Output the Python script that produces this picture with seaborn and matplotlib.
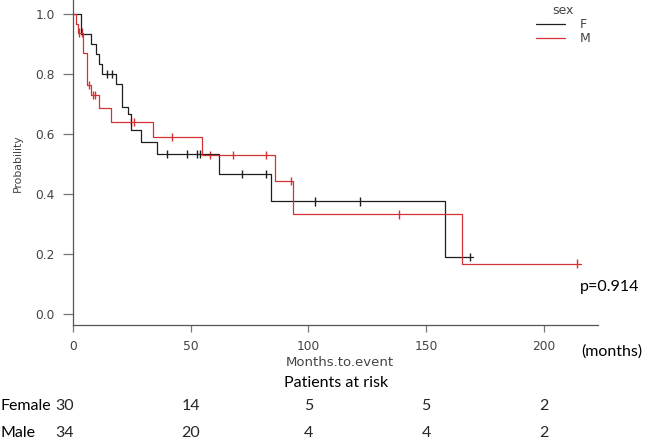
import numpy as np
import pandas as pd
import matplotlib
matplotlib.use("Agg")
import matplotlib.pyplot as plt
import matplotlib.transforms as mtransforms
import seaborn as sns

# ---- data ----
f_times = [0, 3.4, 7.5, 9.8, 11.2, 12.3, 18.3, 21.0, 23.2, 24.5, 28.9, 35.8, 62.1, 83.9, 158.2, 169.9]
f_surv = [1.0, 0.933, 0.90, 0.867, 0.833, 0.80, 0.767, 0.69, 0.667, 0.613, 0.574, 0.533, 0.467, 0.375, 0.19, 0.19]
m_times = [0, 1.3, 2.3, 4.1, 5.8, 7.5, 11.2, 16.1, 34.1, 54.9, 85.7, 93.6, 165.4, 215.9]
m_surv = [1.0, 0.967, 0.938, 0.871, 0.763, 0.73, 0.686, 0.641, 0.589, 0.53, 0.444, 0.332, 0.168, 0.168]

f_cens_t = [14.6, 16.7, 40.0, 48.3, 52.8, 53.9, 71.9, 81.9, 102.7, 121.7, 168.5]
f_cens_s = [0.80, 0.80, 0.533, 0.533, 0.533, 0.533, 0.467, 0.467, 0.375, 0.375, 0.19]
m_cens_t = [2.6, 3.7, 6.9, 8.5, 9.3, 24.6, 25.9, 42.2, 58.1, 67.8, 81.9, 92.8, 138.5, 214.2]
m_cens_s = [0.938, 0.938, 0.763, 0.73, 0.73, 0.641, 0.641, 0.589, 0.53, 0.53, 0.53, 0.444, 0.332, 0.168]

risk_times = [0, 50, 100, 150, 200]
risk_female = [30, 14, 5, 5, 2]
risk_male = [34, 20, 4, 4, 2]
x_ticks = [0, 50, 100, 150, 200]
y_ticks = [0.0, 0.2, 0.4, 0.6, 0.8, 1.0]
p_value_text = "p=0.914"

# ---- build tables ----
curves = pd.concat([
    pd.DataFrame({"time": f_times, "surv": f_surv, "sex": "F"}),
    pd.DataFrame({"time": m_times, "surv": m_surv, "sex": "M"}),
], ignore_index=True)
cens = pd.concat([
    pd.DataFrame({"time": f_cens_t, "surv": f_cens_s, "sex": "F"}),
    pd.DataFrame({"time": m_cens_t, "surv": m_cens_s, "sex": "M"}),
], ignore_index=True)

palette = {"F": "#1e1e1e", "M": "#d43232"}

W, H = 658, 443
fig = plt.figure(figsize=(W / 100, H / 100), dpi=100)
sns.set_style("white")
plt.rcParams["font.family"] = ["DejaVu Sans"]

def px(x, y):
    return x / W, 1 - y / H

ax_left, ax_right, ax_top, ax_bottom = 73, 598, 0, 325
ax = fig.add_axes([ax_left / W, 1 - ax_bottom / H, (ax_right - ax_left) / W, (ax_bottom - ax_top) / H])

sns.lineplot(data=curves, x="time", y="surv", hue="sex", palette=palette,
             drawstyle="steps-post", estimator=None, linewidth=0.9, ax=ax, legend=True)
sns.scatterplot(data=cens, x="time", y="surv", hue="sex", palette=palette,
                marker="|", s=36, linewidth=1.0, ax=ax, legend=False)

ax.set_xlim(0, 223)
ax.set_ylim(-0.0367, 1.0467)
ax.set_xticks(x_ticks)
ax.set_yticks(y_ticks)
ax.set_xticklabels([str(v) for v in x_ticks])
ax.set_yticklabels([f"{v:.1f}" for v in y_ticks])
for s in ["top", "right"]:
    ax.spines[s].set_visible(False)
for s in ["left", "bottom"]:
    ax.spines[s].set_color("#555555")
    ax.spines[s].set_linewidth(0.9)
ax.tick_params(axis="y", direction="out", length=7, width=0.9, color="#777777",
               labelsize=8.8, labelcolor="#444444", pad=6, left=True)
ax.tick_params(axis="x", direction="out", length=5, width=0.9, color="#777777",
               labelsize=8.8, labelcolor="#444444", pad=6, bottom=True)
ax.set_xlabel("")
ax.set_ylabel("")
ax.grid(False)
ax.set_facecolor("white")

# axis titles
fig.text(*px(340, 363), "Months.to.event", ha="center", va="center", fontsize=9.5, color="#444444")
fig.text(*px(18, 163), "Probability", ha="center", va="center", rotation=90, fontsize=7.8, color="#444444")

# legend
handles, labels = ax.get_legend_handles_labels()
leg = ax.legend(handles, labels, title="sex", loc="upper left",
                bbox_to_anchor=px(536, 4), bbox_transform=fig.transFigure,
                frameon=False, fontsize=9, title_fontsize=9,
                handlelength=2.3, handletextpad=1.2, labelspacing=0.1,
                borderpad=0, borderaxespad=0)
for t in leg.get_texts():
    t.set_color("#444444")
leg.get_title().set_color("#444444")
for l in leg.get_lines():
    l.set_linewidth(0.9)

# annotations (Calibri-like)
cal = "Lato"
fs = 11.5
fig.text(*px(580, 287), p_value_text, ha="left", va="center", fontsize=fs, family=cal, color="black")
fig.text(*px(581, 352), "(months)", ha="left", va="center", fontsize=fs, family=cal, color="black")
fig.text(*px(336, 383), "Patients at risk", ha="center", va="center", fontsize=fs, family=cal, color="black")
fig.text(*px(0, 406), "Female", ha="left", va="center", fontsize=fs, family=cal, color="black")
fig.text(*px(0, 433), "Male", ha="left", va="center", fontsize=fs, family=cal, color="black")

blend = mtransforms.blended_transform_factory(ax.transData, fig.transFigure)
for i, (t, nf, nm) in enumerate(zip(risk_times, risk_female, risk_male)):
    tr = blend
    if i == 0:
        tr = blend + mtransforms.ScaledTranslation(-8 / 100, 0, fig.dpi_scale_trans)
    fig.text(t, 1 - 406 / H, str(nf), transform=tr, ha="center", va="center", fontsize=fs, family=cal)
    fig.text(t, 1 - 433 / H, str(nm), transform=tr, ha="center", va="center", fontsize=fs, family=cal)

fig.savefig("out.png", dpi=100, facecolor="white")
